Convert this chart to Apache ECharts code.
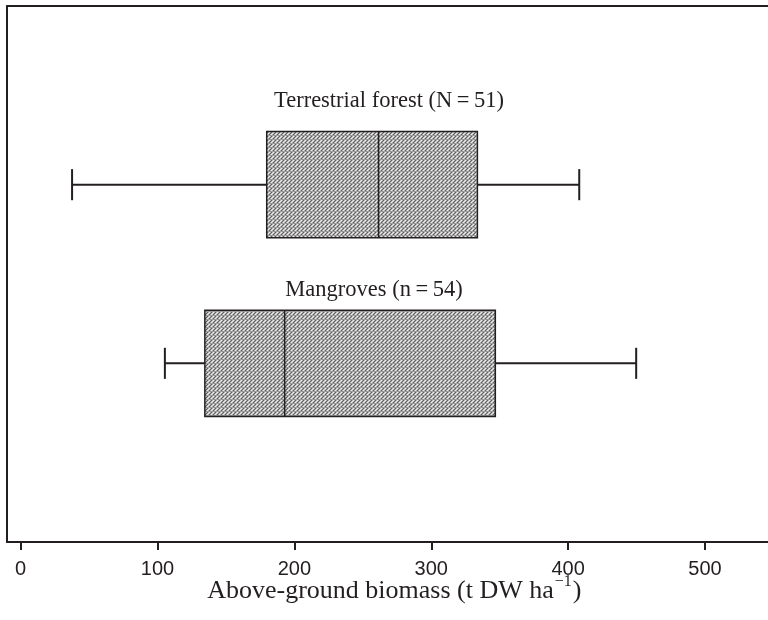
<!DOCTYPE html>
<html>
<head>
<meta charset="utf-8">
<script src="https://cdn.jsdelivr.net/npm/echarts@6/dist/echarts.min.js"></script>
<style>
  html, body { margin: 0; padding: 0; background: #ffffff; }
  #chart { width: 768px; height: 620px; }
</style>
</head>
<body>
<div id="chart"></div>
<script>
// Above-ground biomass: box-and-whisker summary per forest type
const categories = ['Terrestrial forest (N\u2009=\u200951)', 'Mangroves (n\u2009=\u200954)'];
const whiskerLow = [37.6, 105.4];
const quartile1 = [179.8, 134.6];
const medians = [261.5, 192.9];
const quartile3 = [333.7, 346.8];
const whiskerHigh = [408.1, 449.7];
const tickInterval = 100;

const INK = '#231f20';

// stippled grey fill for the boxes
function makeStipple() {
  const c = document.createElement('canvas');
  c.width = 4; c.height = 4;
  const ctx = c.getContext('2d');
  const g = '#b4b4b4', w = '#ececec', d = '#5e5e5e', l = '#9a9a9a';
  const rows = [
    [g, w, g, d],
    [w, g, d, g],
    [g, d, g, w],
    [l, l, l, l]
  ];
  rows.forEach((r, y) => r.forEach((col, x) => { ctx.fillStyle = col; ctx.fillRect(x, y, 1, 1); }));
  return c;
}
const stipple = { image: makeStipple(), repeat: 'repeat' };

// rows sit at 1 and 2 on a hidden 0..3 vertical scale
const seriesData = categories.map((name, i) => ({
  name: name,
  value: [i + 1, whiskerLow[i], quartile1[i], medians[i], quartile3[i], whiskerHigh[i]]
}));

const hiddenAxis = {
  axisLine: { show: false }, axisTick: { show: false },
  axisLabel: { show: false }, splitLine: { show: false }
};
const frameLine = { show: true, onZero: false, lineStyle: { color: INK, width: 2 } };

const chart = echarts.init(document.getElementById('chart'), null, { renderer: 'canvas' });

chart.setOption({
  animation: false,
  backgroundColor: '#ffffff',
  grid: [
    // frame: left, top and bottom rules (open on the right)
    { left: 7, top: 6, right: 0, height: 536 },
    // data area starting at the zero of the biomass scale
    { left: 20.6, top: 6, right: 0, height: 536 }
  ],
  xAxis: [
    {
      gridIndex: 0, type: 'value', min: 0, max: 1, position: 'bottom',
      axisLine: frameLine, axisTick: { show: false }, axisLabel: { show: false }, splitLine: { show: false }
    },
    {
      gridIndex: 0, type: 'value', min: 0, max: 1, position: 'top',
      axisLine: frameLine, axisTick: { show: false }, axisLabel: { show: false }, splitLine: { show: false }
    },
    {
      gridIndex: 1,
      type: 'value',
      position: 'bottom',
      min: 0,
      max: 546,
      interval: tickInterval,
      splitLine: { show: false },
      axisLine: { show: false, onZero: false },
      axisTick: { show: true, length: 8, lineStyle: { color: INK, width: 2 } },
      axisLabel: {
        showMaxLabel: false,
        margin: 17,
        fontFamily: 'Liberation Sans',
        fontSize: 20,
        color: INK
      },
      name: '{a|Above-ground biomass (t DW ha}{s|\u22121}{a|)}',
      nameLocation: 'middle',
      nameGap: 32,
      nameMoveOverlap: false,
      nameTextStyle: {
        rich: {
          a: { fontFamily: 'Liberation Serif', fontSize: 26, color: INK, lineHeight: 30, verticalAlign: 'bottom' },
          s: { fontFamily: 'Liberation Serif', fontSize: 16, color: INK, lineHeight: 16, verticalAlign: 'top', padding: [0, 1, 0, 1] }
        }
      }
    }
  ],
  yAxis: [
    {
      gridIndex: 0, type: 'value', min: 0, max: 1, position: 'left',
      axisLine: frameLine, axisTick: { show: false }, axisLabel: { show: false }, splitLine: { show: false }
    },
    Object.assign({ gridIndex: 1, type: 'value', min: 0, max: 3, inverse: true }, hiddenAxis)
  ],
  graphic: [
    {
      type: 'text', x: 389, y: 101,
      style: { text: categories[0], fontFamily: 'Liberation Serif', fontSize: 22.5, fill: INK, align: 'center', verticalAlign: 'middle' }
    },
    {
      type: 'text', x: 374, y: 290,
      style: { text: categories[1], fontFamily: 'Liberation Serif', fontSize: 22.5, fill: INK, align: 'center', verticalAlign: 'middle' }
    }
  ],
  series: [{
    type: 'custom',
    xAxisIndex: 2,
    yAxisIndex: 1,
    encode: { x: [1, 2, 3, 4, 5], y: 0 },
    data: seriesData,
    renderItem: function (params, api) {
      const row = api.value(0);
      const pLow = api.coord([api.value(1), row]);
      const pQ1 = api.coord([api.value(2), row]);
      const pMed = api.coord([api.value(3), row]);
      const pQ3 = api.coord([api.value(4), row]);
      const pHigh = api.coord([api.value(5), row]);
      const boxH = api.size([0, 0.594])[1];
      const capH = api.size([0, 0.174])[1];
      const y = pMed[1];
      const lineStyle = { stroke: INK, lineWidth: 2 };
      return {
        type: 'group',
        children: [
          { type: 'line', shape: { x1: pLow[0], y1: y, x2: pQ1[0], y2: y }, style: lineStyle },
          { type: 'line', shape: { x1: pQ3[0], y1: y, x2: pHigh[0], y2: y }, style: lineStyle },
          { type: 'line', shape: { x1: pLow[0], y1: y - capH / 2, x2: pLow[0], y2: y + capH / 2 }, style: lineStyle },
          { type: 'line', shape: { x1: pHigh[0], y1: y - capH / 2, x2: pHigh[0], y2: y + capH / 2 }, style: lineStyle },
          {
            type: 'rect',
            shape: { x: pQ1[0], y: y - boxH / 2, width: pQ3[0] - pQ1[0], height: boxH },
            style: { fill: stipple, stroke: INK, lineWidth: 1.5 }
          },
          { type: 'line', shape: { x1: pMed[0], y1: y - boxH / 2, x2: pMed[0], y2: y + boxH / 2 }, style: { stroke: INK, lineWidth: 1.5 } }
        ]
      };
    }
  }]
});
</script>
</body>
</html>
